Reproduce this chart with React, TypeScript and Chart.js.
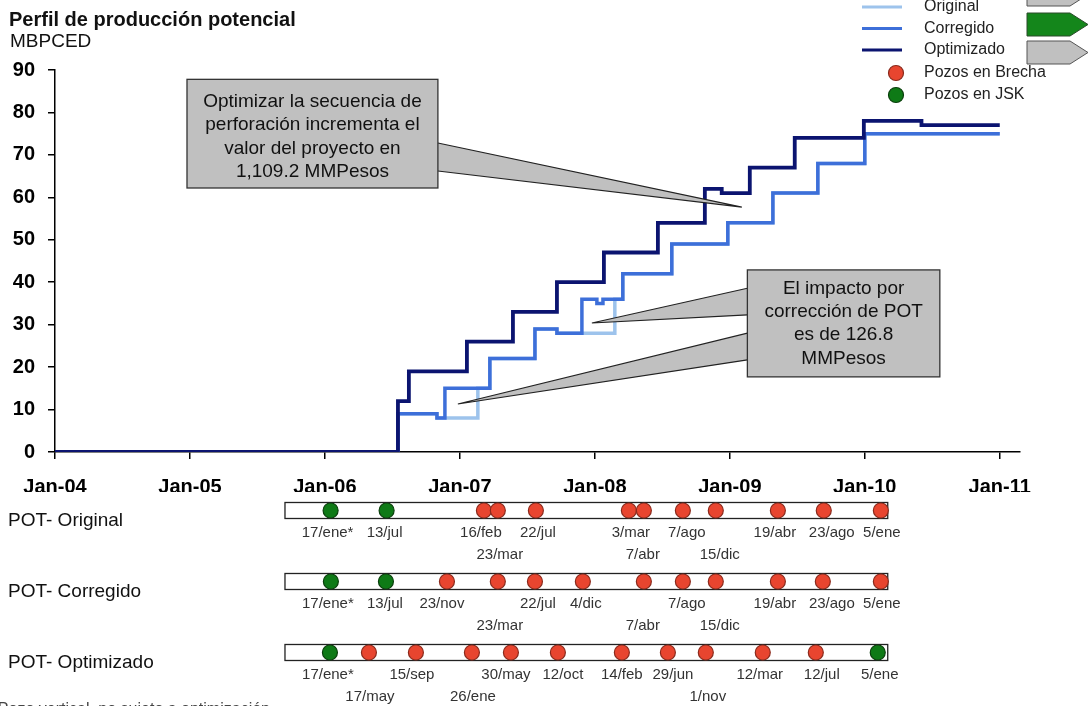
import { useEffect, useRef } from 'react';
import { Chart, registerables } from 'chart.js';

Chart.register(...registerables);

const FONT = '"Liberation Sans", Arial, Helvetica, sans-serif';

// ---------- axis ticks ----------
const xTickYears = [2004, 2005, 2006, 2007, 2008, 2009, 2010, 2011];
const xTickLabels = ['Jan-04', 'Jan-05', 'Jan-06', 'Jan-07', 'Jan-08', 'Jan-09', 'Jan-10', 'Jan-11'];

// ---------- production profiles (decimal year, MBPCED) ----------
const originalX = [2004, 2006.541, 2006.83, 2007.133, 2007.222, 2007.556, 2007.719, 2008.148, 2008.207, 2008.57, 2008.985, 2009.319, 2009.652, 2010.0, 2011.0];
const originalY = [0, 9, 8, 15, 22, 29, 28, 36, 42, 49, 54, 61, 68, 75, 75];

const corregidoX = [2004, 2006.541, 2006.83, 2006.889, 2007.222, 2007.556, 2007.719, 2007.904, 2008.015, 2008.06, 2008.207, 2008.57, 2008.985, 2009.319, 2009.652, 2010.0, 2011.0];
const corregidoY = [0, 9, 8, 15, 22, 29, 28, 36, 35, 36, 42, 49, 54, 61, 68, 75, 75];

const optimizadoX = [2004, 2006.541, 2006.622, 2007.052, 2007.393, 2007.719, 2008.067, 2008.467, 2008.815, 2008.94, 2009.148, 2009.481, 2009.993, 2010.42, 2011.0];
const optimizadoY = [0, 12, 19, 26, 33, 40, 47, 54, 62, 61, 67, 74, 78, 77, 77];

// ---------- well timelines ----------
const rowNames = ['POT- Original', 'POT- Corregido', 'POT- Optimizado'];

const origWellX = [2006.042, 2006.457, 2007.178, 2007.281, 2007.563, 2008.252, 2008.363, 2008.652, 2008.896, 2009.356, 2009.696, 2010.119];
const origWellDates = ['17/ene*', '13/jul', '16/feb', '23/mar', '22/jul', '3/mar', '7/abr', '7/ago', '15/dic', '19/abr', '23/ago', '5/ene'];
const origWellLine = [0, 0, 0, 1, 0, 0, 1, 0, 1, 0, 0, 0];
const origWellType = ['JSK', 'JSK', 'Brecha', 'Brecha', 'Brecha', 'Brecha', 'Brecha', 'Brecha', 'Brecha', 'Brecha', 'Brecha', 'Brecha'];

const corrWellX = [2006.044, 2006.452, 2006.904, 2007.281, 2007.556, 2007.911, 2008.363, 2008.652, 2008.896, 2009.356, 2009.689, 2010.119];
const corrWellDates = ['17/ene*', '13/jul', '23/nov', '23/mar', '22/jul', '4/dic', '7/abr', '7/ago', '15/dic', '19/abr', '23/ago', '5/ene'];
const corrWellLine = [0, 0, 0, 1, 0, 0, 1, 0, 1, 0, 0, 0];
const corrWellType = ['JSK', 'JSK', 'Brecha', 'Brecha', 'Brecha', 'Brecha', 'Brecha', 'Brecha', 'Brecha', 'Brecha', 'Brecha', 'Brecha'];

const optWellX = [2006.037, 2006.326, 2006.674, 2007.089, 2007.378, 2007.726, 2008.2, 2008.541, 2008.822, 2009.244, 2009.637, 2010.096];
const optWellDates = ['17/ene*', '17/may', '15/sep', '26/ene', '30/may', '12/oct', '14/feb', '29/jun', '1/nov', '12/mar', '12/jul', '5/ene'];
const optWellLine = [0, 1, 0, 1, 0, 0, 0, 0, 1, 0, 0, 0];
const optWellType = ['JSK', 'Brecha', 'Brecha', 'Brecha', 'Brecha', 'Brecha', 'Brecha', 'Brecha', 'Brecha', 'Brecha', 'Brecha', 'JSK'];

// ---------- texts ----------
const titleText = 'Perfil de producción potencial';
const unitText = 'MBPCED';
const legendLineLabels = ['Original', 'Corregido', 'Optimizado'];
const legendDotLabels = ['Pozos en Brecha', 'Pozos en JSK'];
const calloutOptim = ['Optimizar la secuencia de', 'perforación incrementa el', 'valor del proyecto en', '1,109.2 MMPesos'];
const calloutPot = ['El impacto por', 'corrección de POT', 'es de 126.8', 'MMPesos'];
const footnote = '*Pozo vertical, no sujeto a optimización';

// ---------- styles / layout (not data) ----------
const C_ORIG = '#9DC3EC';
const C_CORR = '#3D6FD9';
const C_OPT = '#0B1470';
const C_RED = '#E8452F';
const C_RED_B = '#8A2A1C';
const C_GREEN = '#0E7A16';
const C_GREEN_B = '#0A3F0C';
const C_BOX = '#C0C0C0';

const BAR_START = 2005.704;
const BAR_END = 2010.17;

// horizontal pixel nudges of the date labels relative to their dots
const origLabelNudge = [-3, -2, -3, 2, 2, 2, -1, 4, 4, -3, 8, 1];
const corrLabelNudge = [-3, -1, -5, 2, 3, 3, -1, 4, 4, -3, 9, 1];
const optLabelNudge = [-2, 1, -4, 1, -5, 5, 0, 5, 2, -3, 6, 2];

const toPts = (xs: number[], ys: number[]) => xs.map((x, i) => ({ x, y: ys[i] }));
const rowPts = (xs: number[], r: number) => xs.map((x) => ({ x, y: r }));
const fillFor = (t: string[]) => t.map((v) => (v === 'JSK' ? C_GREEN : C_RED));
const borderFor = (t: string[]) => t.map((v) => (v === 'JSK' ? C_GREEN_B : C_RED_B));

const wellRows = [
  { x: origWellX, dates: origWellDates, line: origWellLine, type: origWellType, nudge: origLabelNudge },
  { x: corrWellX, dates: corrWellDates, line: corrWellLine, type: corrWellType, nudge: corrLabelNudge },
  { x: optWellX, dates: optWellDates, line: optWellLine, type: optWellType, nudge: optLabelNudge },
];
const DOT_DS_START = 3;

function drawCallout(
  chart: any,
  box: { x0: number; x1: number; y0: number; y1: number },
  wedges: { bx: number; b0: number; b1: number; tx: number; ty: number }[],
  lines: string[],
  gap: number,
  offset: number,
) {
  const ctx = chart.ctx as CanvasRenderingContext2D;
  const xs = chart.scales.x;
  const ys = chart.scales.y;
  const X = (v: number) => xs.getPixelForValue(v);
  const Y = (v: number) => ys.getPixelForValue(v);
  ctx.save();
  wedges.forEach((w) => {
    const bx = X(w.bx);
    const p0 = Y(w.b0);
    const p1 = Y(w.b1);
    const tx = X(w.tx);
    const ty = Y(w.ty);
    ctx.beginPath();
    ctx.moveTo(bx, p0);
    ctx.lineTo(tx, ty);
    ctx.lineTo(bx, p1);
    ctx.closePath();
    ctx.fillStyle = C_BOX;
    ctx.fill();
    ctx.beginPath();
    ctx.moveTo(bx, p0);
    ctx.lineTo(tx, ty);
    ctx.lineTo(bx, p1);
    ctx.strokeStyle = '#222';
    ctx.lineWidth = 1.1;
    ctx.stroke();
  });
  const bx0 = X(box.x0);
  const bx1 = X(box.x1);
  const by0 = Y(box.y0);
  const by1 = Y(box.y1);
  ctx.fillStyle = C_BOX;
  ctx.fillRect(bx0, by0, bx1 - bx0, by1 - by0);
  ctx.strokeStyle = '#333';
  ctx.lineWidth = 1.3;
  ctx.strokeRect(bx0, by0, bx1 - bx0, by1 - by0);
  ctx.fillStyle = '#111';
  ctx.font = `19px ${FONT}`;
  ctx.textAlign = 'center';
  ctx.textBaseline = 'middle';
  const cx = (bx0 + bx1) / 2;
  const cy = (by0 + by1) / 2 + offset;
  lines.forEach((t, i) => {
    ctx.fillText(t, cx, cy + (i - (lines.length - 1) / 2) * gap);
  });
  ctx.restore();
}

const BIG_AREA = { left: -10000, top: -10000, right: 10000, bottom: 10000, width: 20000, height: 20000 };

const decorPlugin = {
  id: 'decor',
  beforeDatasetsDraw(chart: any) {
    const ctx = chart.ctx as CanvasRenderingContext2D;
    const xs = chart.scales.x;
    const yr = chart.scales.yRow;
    ctx.save();
    rowNames.forEach((name, r) => {
      const cy = yr.getPixelForValue(r);
      const x0 = xs.getPixelForValue(BAR_START);
      const x1 = xs.getPixelForValue(BAR_END);
      ctx.fillStyle = '#fff';
      ctx.fillRect(x0, cy - 8, x1 - x0, 16);
      ctx.strokeStyle = '#222';
      ctx.lineWidth = 1.3;
      ctx.strokeRect(x0, cy - 8, x1 - x0, 16);
      ctx.fillStyle = '#111';
      ctx.font = `19px ${FONT}`;
      ctx.textAlign = 'left';
      ctx.textBaseline = 'middle';
      ctx.fillText(name, 8, cy + 10);
    });
    ctx.restore();
  },
  afterDatasetsDraw(chart: any) {
    const ctx = chart.ctx as CanvasRenderingContext2D;
    // well dots: library point elements, drawn outside the plot area
    wellRows.forEach((_row, r) => {
      const meta = chart.getDatasetMeta(DOT_DS_START + r);
      meta.data.forEach((el: any) => el.draw(ctx, BIG_AREA));
    });
    drawCallout(
      chart,
      { x0: 2004.978, x1: 2006.837, y0: 87.8, y1: 62.2 },
      [{ bx: 2006.837, b0: 72.8, b1: 66.2, tx: 2009.089, ty: 57.7 }],
      calloutOptim,
      23.6,
      3,
    );
    drawCallout(
      chart,
      { x0: 2009.13, x1: 2010.556, y0: 42.9, y1: 17.7 },
      [
        { bx: 2009.13, b0: 38.6, b1: 32.3, tx: 2007.978, ty: 30.4 },
        { bx: 2009.13, b0: 28.0, b1: 21.7, tx: 2006.985, ty: 11.3 },
      ],
      calloutPot,
      23.3,
      0,
    );
  },
  afterDraw(chart: any) {
    const ctx = chart.ctx as CanvasRenderingContext2D;
    ctx.save();
    // title
    ctx.fillStyle = '#111';
    ctx.textAlign = 'left';
    ctx.textBaseline = 'middle';
    ctx.font = `bold 20px ${FONT}`;
    ctx.fillText(titleText, 9, 20);
    ctx.font = `19px ${FONT}`;
    ctx.fillText(unitText, 10, 42);

    // date labels under the well dots
    ctx.font = `15px ${FONT}`;
    ctx.fillStyle = '#333';
    ctx.textAlign = 'center';
    wellRows.forEach((row, r) => {
      const meta = chart.getDatasetMeta(DOT_DS_START + r);
      meta.data.forEach((el: any, i: number) => {
        ctx.fillText(row.dates[i], el.x + row.nudge[i], el.y + 22 + row.line[i] * 22.5);
      });
    });

    // legend
    const lc = [C_ORIG, C_CORR, C_OPT];
    const ly = [7, 28.5, 50];
    ctx.lineWidth = 3;
    legendLineLabels.forEach((_t, i) => {
      ctx.strokeStyle = lc[i];
      ctx.beginPath();
      ctx.moveTo(862, ly[i]);
      ctx.lineTo(902, ly[i]);
      ctx.stroke();
    });
    ctx.font = `16px ${FONT}`;
    ctx.fillStyle = '#222';
    ctx.textAlign = 'left';
    legendLineLabels.forEach((t, i) => ctx.fillText(t, 924, ly[i]));
    const dy = [73, 95];
    const dc = [C_RED, C_GREEN];
    const db = [C_RED_B, C_GREEN_B];
    legendDotLabels.forEach((t, i) => {
      ctx.beginPath();
      ctx.arc(896, dy[i], 7.5, 0, Math.PI * 2);
      ctx.fillStyle = dc[i];
      ctx.fill();
      ctx.strokeStyle = db[i];
      ctx.lineWidth = 1.2;
      ctx.stroke();
      ctx.fillStyle = '#222';
      ctx.fillText(t, 924, dy[i]);
    });

    // arrow tags at the right edge
    const tags = [
      { y0: -17, y1: 6, fill: C_BOX, stroke: '#555' },
      { y0: 13, y1: 36, fill: '#14861B', stroke: '#2a4a2a' },
      { y0: 41, y1: 64, fill: C_BOX, stroke: '#555' },
    ];
    tags.forEach((tg) => {
      ctx.beginPath();
      ctx.moveTo(1027, tg.y0);
      ctx.lineTo(1070, tg.y0);
      ctx.lineTo(1088, (tg.y0 + tg.y1) / 2);
      ctx.lineTo(1070, tg.y1);
      ctx.lineTo(1027, tg.y1);
      ctx.closePath();
      ctx.fillStyle = tg.fill;
      ctx.fill();
      ctx.strokeStyle = tg.stroke;
      ctx.lineWidth = 1;
      ctx.stroke();
    });

    // footnote (clipped at the bottom)
    ctx.font = `16px ${FONT}`;
    ctx.fillStyle = '#444';
    ctx.textAlign = 'right';
    ctx.textBaseline = 'top';
    ctx.fillText(footnote, 270, 702);
    ctx.restore();
  },
};

const axisGrid = {
  display: true,
  drawOnChartArea: false,
  drawTicks: true,
  tickLength: 7,
  color: '#000',
  lineWidth: 1.5,
};

export default function App() {
  const ref = useRef<HTMLCanvasElement>(null);
  useEffect(() => {
    if (!ref.current) return;
    const lineDs = (label: string, xs: number[], ys: number[], color: string, order: number, width: number) => ({
      type: 'line' as const,
      label,
      data: toPts(xs, ys),
      stepped: 'before' as const,
      borderColor: color,
      backgroundColor: color,
      borderWidth: width,
      pointRadius: 0,
      fill: false,
      yAxisID: 'y',
      xAxisID: 'x',
      order,
      borderJoinStyle: 'miter' as const,
      borderCapStyle: 'butt' as const,
    });
    const dotDs = (r: number) => ({
      type: 'line' as const,
      label: rowNames[r],
      data: rowPts(wellRows[r].x, r),
      showLine: false,
      pointRadius: 7.5,
      pointHoverRadius: 7.5,
      pointBorderWidth: 1.2,
      pointBackgroundColor: fillFor(wellRows[r].type),
      pointBorderColor: borderFor(wellRows[r].type),
      yAxisID: 'yRow',
      xAxisID: 'x',
      clip: false as any,
      order: 0,
    });
    const chart = new Chart(ref.current, {
      type: 'line',
      data: {
        datasets: [
          lineDs('Original', originalX, originalY, C_ORIG, 3, 3.5),
          lineDs('Corregido', corregidoX, corregidoY, C_CORR, 2, 3.5),
          lineDs('Optimizado', optimizadoX, optimizadoY, C_OPT, 1, 3.8),
          dotDs(0),
          dotDs(1),
          dotDs(2),
        ] as any,
      },
      options: {
        responsive: false,
        animation: false,
        devicePixelRatio: 1,
        events: [],
        layout: { padding: { left: 0, top: 70, right: 70, bottom: 214 } },
        plugins: {
          legend: { display: false },
          tooltip: { enabled: false },
        },
        scales: {
          x: {
            type: 'linear',
            position: 'bottom',
            min: 2004,
            max: 2011.15,
            afterBuildTicks: (axis: any) => {
              axis.ticks = xTickYears.map((v) => ({ value: v }));
            },
            afterFit: (axis: any) => {
              axis.height = 40;
            },
            ticks: {
              autoSkip: false,
              maxRotation: 0,
              padding: 16,
              color: '#000',
              font: { family: FONT, size: 20, weight: 'bold' },
              callback: (_v: any, i: number) => xTickLabels[i],
            },
            grid: axisGrid,
            border: { display: true, color: '#000', width: 1.5 },
          },
          y: {
            type: 'linear',
            position: 'left',
            min: 0,
            max: 90,
            afterFit: (axis: any) => {
              axis.width = 55;
            },
            ticks: {
              stepSize: 10,
              padding: 13,
              color: '#000',
              font: { family: FONT, size: 20, weight: 'bold' },
            },
            grid: axisGrid,
            border: { display: true, color: '#000', width: 1.5 },
          },
          yRow: {
            type: 'linear',
            display: false,
            reverse: true,
            min: -6.2042,
            max: -0.8239,
          },
        },
      } as any,
      plugins: [decorPlugin],
    });
    return () => chart.destroy();
  }, []);
  return (
    <div style={{ position: 'absolute', left: 0, top: 0, width: 1090, height: 706, background: '#fff', overflow: 'hidden' }}>
      <canvas ref={ref} width={1090} height={706} style={{ display: 'block', width: 1090, height: 706 }} />
    </div>
  );
}
